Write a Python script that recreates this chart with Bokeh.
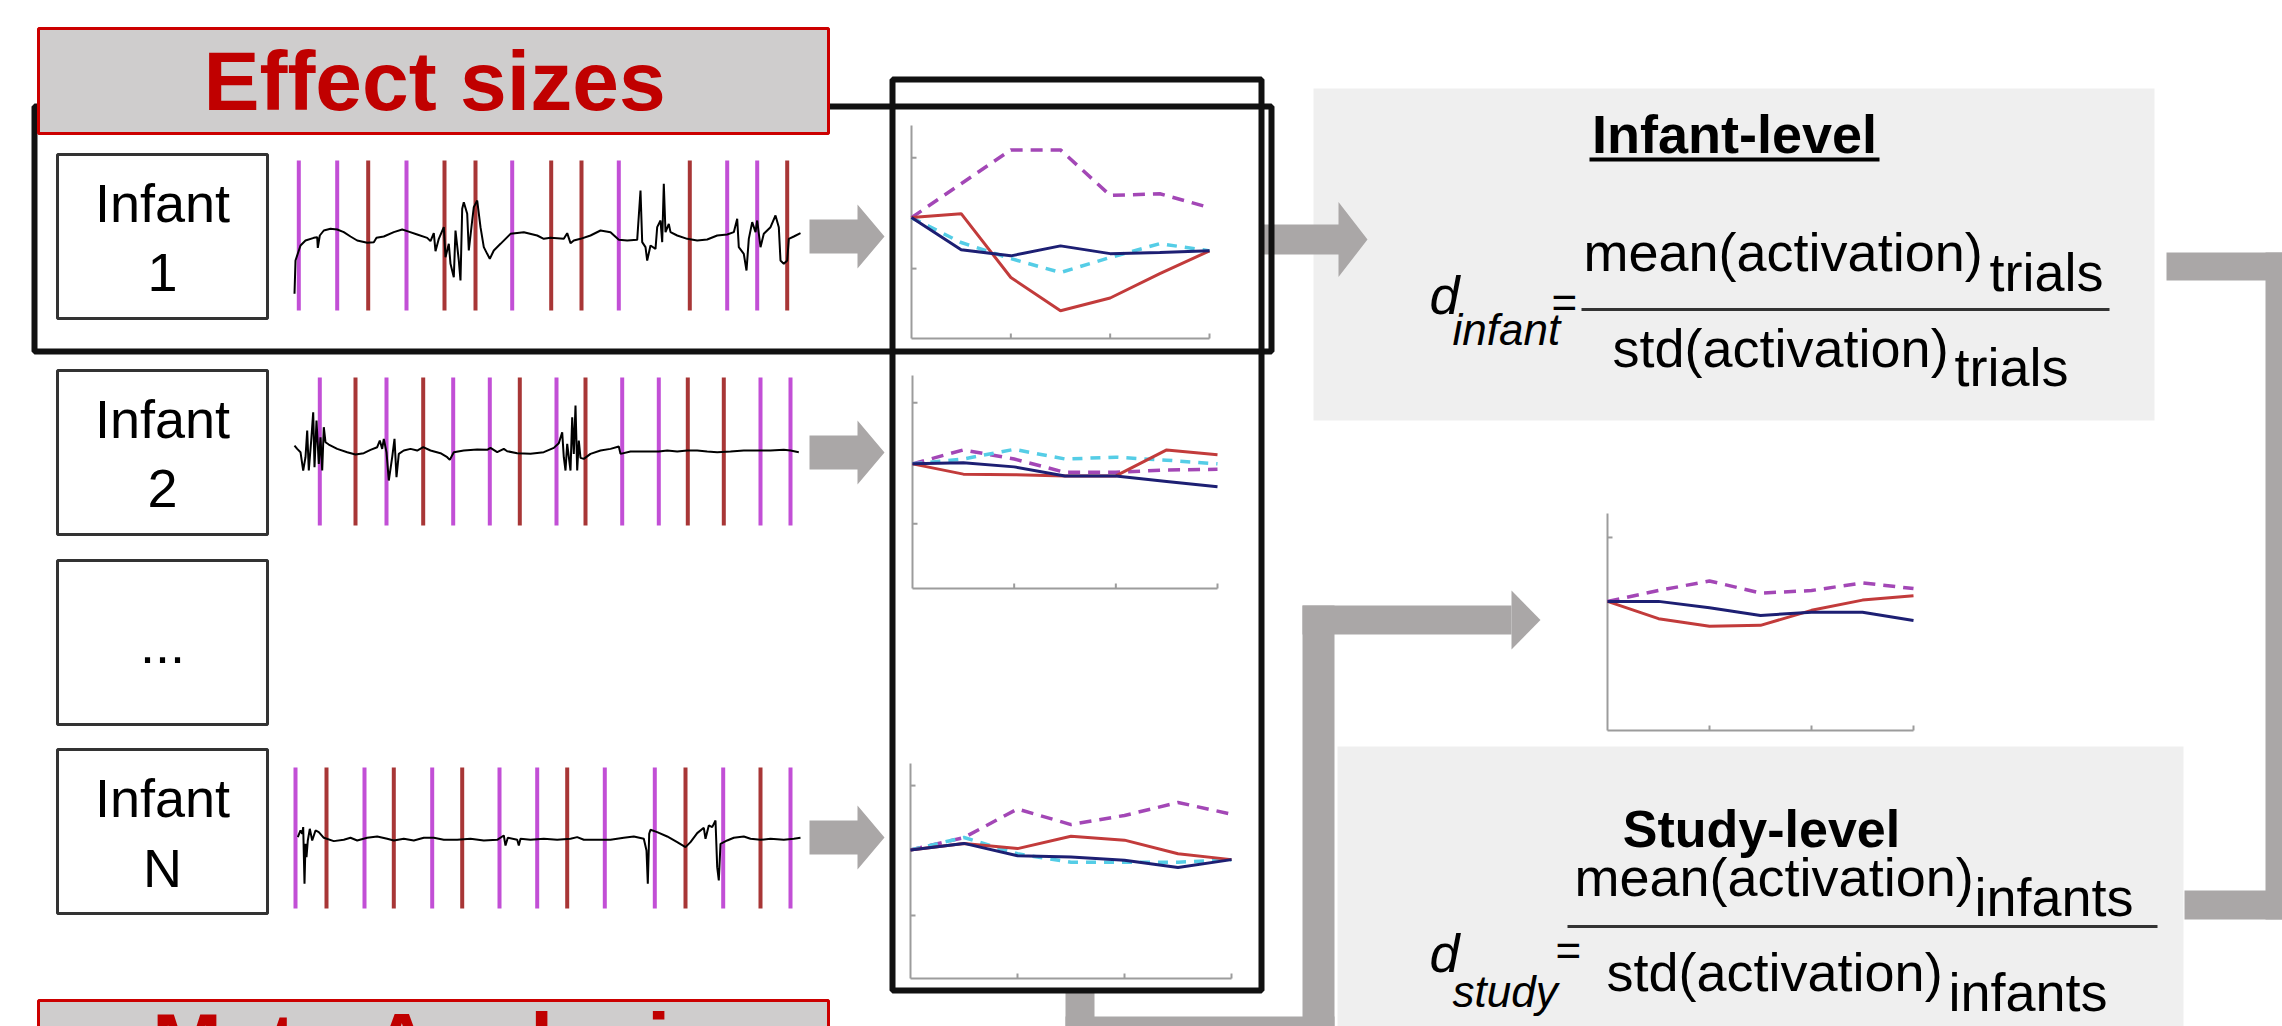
from bokeh.plotting import figure
from bokeh.models import Range1d
from bokeh.core.properties import value
from bokeh.embed import file_html
from bokeh.resources import INLINE

W, H = 2282, 1026
FONT = value("Liberation Sans")

# ------------------------------------------------------------------ data
# raw signal traces (time in s, amplitude in arbitrary units)
t1 = [0.4, 0.5, 1.0, 1.5, 2.33, 2.67, 2.73, 2.93, 3.33, 4.0, 4.67, 5.33, 6.0, 6.67, 7.67, 8.33, 8.6, 9.33, 10.33, 11.17,
      11.67, 12.67, 13.67, 14.0, 14.33, 14.5, 14.83, 15.33, 15.5, 15.83, 16.0, 16.33, 16.5, 16.83, 17.0, 17.17, 17.33,
      17.67, 17.83, 18.17, 18.33, 18.67, 19.0, 19.33, 19.67, 19.93, 20.33, 21.0, 22.0, 23.33, 24.67, 25.33, 26.0, 27.33,
      27.67, 28.0, 28.33, 29.0, 30.0, 31.0, 32.0, 32.83, 33.67, 34.67, 35.0, 35.17, 35.5, 35.67, 36.0, 36.5, 36.67, 37.0,
      37.17, 37.33, 37.5, 37.83, 38.0, 38.67, 39.67, 40.67, 41.67, 42.67, 43.67, 44.33, 44.67, 44.83, 45.33, 45.6, 45.83,
      46.17, 46.5, 46.67, 47.0, 47.33, 48.0, 48.5, 48.83, 49.0, 49.33, 49.67, 49.83, 50.33, 51.0]
a1 = [-16, -6, -1.5, 0, 0.8, 1.0, -2.2, 1.5, 3.0, 3.5, 3.3, 2.5, 1.2, 0, -0.7, -0.5, 0.8, 1.2, 2.5, 3.3,
      2.8, 1.8, 0.8, -0.2, 2.2, -3.2, 0.5, 4.0, -5.0, -1.0, -7.0, -11.0, 3.0, -6.0, -12.0, 9.5, 11.5,
      8.0, -3.0, 6.0, 10.0, 12.0, 4.0, -2.0, -4.0, -5.5, -3.0, -1.0, 2.0, 2.5, 1.5, 0.5, 0.8, 0.5,
      2.2, -0.8, 0, 0.5, 1.5, 3.0, 2.5, 0.2, 0, 0.2, 15.0, -0.5, -2.0, -6.0, -1.5, -2.5, 4.0, 6.0,
      -0.5, 17.0, 2.5, 5.0, 2.5, 1.5, 0.5, 0, 0.3, 1.5, 1.8, 2.5, 6.5, -2.0, -4.0, -9.0, 0.5,
      5.5, 2.5, 6.0, -2.0, 2.0, 4.0, 7.5, 4.0, -6.0, -7.0, -6.0, 0.5, 1.2, 2.2]
t2 = [0.4, 0.67, 1.0, 1.27, 1.5, 1.67, 1.83, 2.07, 2.27, 2.4, 2.6, 2.83, 3.0, 3.17, 3.33, 3.5, 3.83, 4.67, 5.67, 6.5,
      7.33, 8.0, 8.67, 8.93, 9.17, 9.33, 9.6, 9.83, 10.17, 10.4, 10.6, 10.83, 11.33, 12.0, 12.67, 13.27, 14.0, 15.0,
      15.67, 15.93, 16.33, 17.33, 18.67, 19.67, 20.0, 20.67, 21.33, 21.67, 22.67, 24.0, 25.33, 26.33, 26.83, 27.17,
      27.33, 27.5, 27.67, 28.0, 28.17, 28.33, 28.5, 28.67, 28.83, 29.0, 29.33, 30.0, 31.0, 32.0, 32.83, 33.0, 34.0,
      35.33, 36.83, 37.67, 38.67, 39.67, 40.67, 41.67, 42.67, 44.0, 45.33, 46.67, 48.0, 49.33, 50.0, 50.83]
a2 = [2.0, 1.0, 0, -5.5, -1.5, 6.5, -5.5, 3.5, 12.0, -4.5, 9.5, -3.5, 4.5, -5.5, 7.5, 3.0, 2.3, 1.0, 0, -0.7,
      -0.3, 0.7, 1.5, 3.5, 1.0, 4.0, 0, -8.5, -1.5, 4.0, -7.5, -0.5, 0.5, 1.0, 0.5, 1.5, 0.5, -0.3,
      -1.5, -2.3, 0, 0.5, 0.8, 0.7, 1.3, 0, 1.0, 0.3, -0.3, -0.5, 0, 1.3, 2.7, 6.0,
      -1.5, -5.5, 2.5, -5.5, 10.5, -0.5, 14.0, -5.5, 3.5, -1.7, -2.0, -0.5, 0.5, 1.0, 1.7, -0.5, 0.2,
      0.2, 0.2, 0.5, 0.2, 0.5, 0.5, 0.2, 0, 0.2, 0.5, 0.5, 0.5, 0.7, 0.5, 0]
tN = [0.73, 1.0, 1.17, 1.27, 1.4, 1.5, 1.6, 1.73, 1.93, 2.17, 2.5, 2.83, 3.33, 4.33, 5.33, 6.0, 6.67, 7.67, 8.67, 9.67,
      10.33, 11.33, 12.33, 13.33, 14.33, 15.33, 16.67, 18.0, 19.33, 20.67, 21.33, 21.5, 21.73, 22.67, 22.83, 23.0,
      24.0, 25.33, 26.67, 28.0, 28.67, 29.33, 30.67, 32.0, 33.33, 34.33, 35.33, 35.6, 35.73, 35.87, 36.0, 36.67,
      37.67, 38.67, 39.5, 40.0, 40.67, 41.33, 41.5, 41.83, 42.17, 42.5, 42.67, 42.83, 43.0, 43.67, 44.33, 45.33,
      46.0, 47.0, 48.0, 49.33, 50.33, 51.0]
aN = [0.5, 2.5, 1.5, 3.5, -13.5, -1.5, -5.5, -0.5, 3.0, -0.5, 2.5, 2.0, 0.3, -0.7, -0.3, 0.3, -0.5, 0.3, 0.7, 0,
      -0.5, 0, -0.5, 0.3, 0.3, -0.3, -0.3, 0, -0.5, -0.3, 1.0, -2.0, 0.3, -0.3, -2.0, 0,
      -0.3, 0, -0.3, 0, 0.5, -0.3, -0.3, -0.3, 0.3, 0.7, 0, -3.5, -13.5, 1.5, 2.7, 2.0,
      0.7, -1.0, -2.5, -1.0, 1.7, 3.3, 0, 4.0, 3.5, 5.5, -8.5, -12.5, -1.5, -0.5, 0.3, 0.7,
      0, -0.3, 0, -0.3, 0, 0.3]

# trial onsets (s) and condition (A = magenta, B = red)
onsets1 = [0.83, 4.67, 7.77, 11.6, 15.4, 18.5, 22.17, 26.07, 29.1, 32.83, 39.93, 43.67, 46.67, 49.67]
conds1 = ["A", "A", "B", "A", "B", "B", "A", "B", "B", "A", "B", "A", "A", "B"]
onsets2 = [2.93, 6.5, 9.6, 13.27, 16.27, 19.93, 22.93, 26.6, 29.5, 33.17, 36.83, 39.73, 43.33, 47.0, 50.0]
conds2 = ["A", "B", "A", "B", "A", "A", "B", "A", "B", "A", "A", "B", "B", "A", "A"]
onsetsN = [0.5, 3.6, 7.4, 10.33, 14.17, 17.17, 20.9, 24.67, 27.67, 31.43, 36.43, 39.5, 43.27, 47.0, 50.0]
condsN = ["A", "B", "A", "B", "A", "B", "A", "A", "B", "A", "A", "B", "A", "B", "A"]

# averaged activation per time bin
bins = [0, 1, 2, 3, 4, 5, 6]
inf1_red = [-0.08, -0.01, -1.16, -1.76, -1.53, -1.09, -0.68]
inf1_blue = [-0.08, -0.66, -0.77, -0.59, -0.73, -0.71, -0.68]
inf1_cyan = [-0.08, -0.53, -0.82, -1.07, -0.80, -0.55, -0.68]
inf1_mag = [-0.08, 0.53, 1.14, 1.14, 0.32, 0.35, 0.10]
inf2_red = [-0.01, -0.18, -0.19, -0.21, -0.21, 0.22, 0.14]
inf2_blue = [-0.01, 0.01, -0.06, -0.21, -0.21, -0.30, -0.39]
inf2_cyan = [-0.01, 0.07, 0.23, 0.07, 0.10, 0.05, -0.01]
inf2_mag = [-0.01, 0.22, 0.07, -0.15, -0.15, -0.11, -0.10]
infN_red = [0.01, 0.11, 0.03, 0.22, 0.16, -0.05, -0.14]
infN_blue = [0.01, 0.11, -0.08, -0.10, -0.15, -0.26, -0.14]
infN_cyan = [0.01, 0.20, -0.05, -0.18, -0.18, -0.18, -0.14]
infN_mag = [0.01, 0.20, 0.64, 0.40, 0.54, 0.74, 0.56]
study_red = [0, -0.27, -0.39, -0.375, -0.14, 0.02, 0.09]
study_blue = [0, 0, -0.10, -0.22, -0.17, -0.17, -0.30]
study_mag = [0, 0.17, 0.32, 0.13, 0.17, 0.29, 0.20]

infant_labels = ["Infant\n1", "Infant\n2", "...", "Infant\nN"]

# ------------------------------------------------------------------ styles
GRAY = "#aaa7a7"
RED_T = "#c00000"
MAG = "#c24fd6"
DRED = "#a83636"
C_RED = "#c23b3b"
C_BLUE = "#1d1f73"
C_CYAN = "#55cde6"
C_MAG = "#a347b6"
AXC = "#9c9c9c"
BASE_SHIFT = 0.37   # svg text baseline correction (fraction of font size)

p = figure(width=W, height=H, x_range=Range1d(0, W), y_range=Range1d(H, 0),
           output_backend="svg", toolbar_location=None,
           x_axis_location=None, y_axis_location=None, min_border=0,
           outline_line_color=None, background_fill_color="white",
           border_fill_color="white")
p.grid.visible = False


def xr(v_a, px_a, v_b, px_b):
    s = (v_b - v_a) / (px_b - px_a)
    return Range1d(start=v_a + (0 - px_a) * s, end=v_a + (W - px_a) * s)


def yr(v_a, py_a, v_b, py_b):
    s = (v_b - v_a) / (py_b - py_a)
    return Range1d(start=v_a + (H - py_a) * s, end=v_a + (0 - py_a) * s)


def txt(x, y, s, size, color="black", style="normal", align="left"):
    p.text(x=[x], y=[y - BASE_SHIFT * size], text=[s], text_font=FONT, text_font_size=value(f"{size}px"),
           text_color=color, text_font_style=style, text_align=align, text_baseline="alphabetic")


def arrow(x0, x1, xt, yc, sh, hh):
    p.patches(xs=[[x0, x1, x1, xt, x1, x1, x0]],
              ys=[[yc - sh / 2, yc - sh / 2, yc - hh / 2, yc, yc + hh / 2, yc + sh / 2, yc + sh / 2]],
              fill_color=GRAY, line_color=None)


# ------------------------------------------------------------------ background boxes
p.quad(left=[1313], right=[2154], top=[88], bottom=[420], fill_color="#efefef", line_color=None)
p.quad(left=[1337], right=[2183], top=[746], bottom=[1040], fill_color="#efefef", line_color=None)

# ------------------------------------------------------------------ gray connectors
p.quad(left=[2166, 2265, 2184], right=[2293, 2293, 2293], top=[252, 252, 890], bottom=[280, 919, 919],
       fill_color=GRAY, line_color=None)
p.quad(left=[1065, 1065, 1302, 1302], right=[1094, 1334, 1334, 1511], top=[990, 1016, 605, 605],
       bottom=[1045, 1045, 1045, 634], fill_color=GRAY, line_color=None)
p.patches(xs=[[1511, 1511, 1540]], ys=[[590, 649, 619.5]], fill_color=GRAY, line_color=None)

# row arrows
for yc in (236, 452, 837):
    arrow(809, 857, 884, yc, 34, 64)
arrow(1259, 1338, 1367, 239, 30, 75)

# ------------------------------------------------------------------ traces
p.extra_x_ranges["t"] = xr(0, 290, 10, 390)
rows = [(t1, a1, onsets1, conds1, 240.0, 160, 310, "a1"),
        (t2, a2, onsets2, conds2, 451.7, 377, 525, "a2"),
        (tN, aN, onsetsN, condsN, 838.3, 767, 908, "aN")]
for tt, aa, ons, cds, base, ytop, ybot, nm in rows:
    p.extra_y_ranges[nm] = yr(0, base, 30, base - 100)
    cols = [MAG if c == "A" else DRED for c in cds]
    p.segment(x0=ons, x1=ons, y0=[ytop] * len(ons), y1=[ybot] * len(ons),
              line_color=cols, line_width=4, x_range_name="t")
    p.line(x=tt, y=aa, line_color="black", line_width=2, x_range_name="t", y_range_name=nm)

# ------------------------------------------------------------------ mini charts
charts = [
    ("c1", (911, 1209, 125, 338, -2.26, 1.58), [-1, 1],
     [(inf1_mag, C_MAG, "12 8"), (inf1_cyan, C_CYAN, "10 8"), (inf1_red, C_RED, None), (inf1_blue, C_BLUE, None)]),
    ("c2", (912, 1217, 375, 588, -2.07, 1.45), [-1, 1],
     [(inf2_mag, C_MAG, "12 8"), (inf2_cyan, C_CYAN, "10 8"), (inf2_red, C_RED, None), (inf2_blue, C_BLUE, None)]),
    ("cN", (910, 1231, 763, 978, -1.97, 1.34), [-1, 1],
     [(infN_mag, C_MAG, "12 8"), (infN_cyan, C_CYAN, "10 8"), (infN_red, C_RED, None), (infN_blue, C_BLUE, None)]),
    ("cS", (1607, 1913, 513, 730, -2.02, 1.375), [1],
     [(study_mag, C_MAG, "12 8"), (study_red, C_RED, None), (study_blue, C_BLUE, None)]),
]
for nm, (xl, xrt, yt, yb, vmin, vmax), yticks, series in charts:
    p.extra_x_ranges[nm + "x"] = xr(bins[0], xl, bins[-1], xrt)
    p.extra_y_ranges[nm + "y"] = yr(vmin, yb, vmax, yt)
    kx = dict(x_range_name=nm + "x", y_range_name=nm + "y")
    dv = (vmax - vmin) / (yb - yt) * 5
    dx = (bins[-1] - bins[0]) / (xrt - xl) * 5
    p.segment(x0=[0, 0], y0=[vmin, vmin], x1=[0, bins[-1]], y1=[vmax, vmin],
              line_color=AXC, line_width=2, **kx)
    xt = [2, 4, 6]
    p.segment(x0=xt, x1=xt, y0=[vmin] * 3, y1=[vmin + dv] * 3, line_color=AXC, line_width=2, **kx)
    p.segment(x0=[0] * len(yticks), x1=[dx] * len(yticks), y0=yticks, y1=yticks,
              line_color=AXC, line_width=2, **kx)
    for vals, col, dash in series:
        if dash:
            p.line(x=bins, y=vals, line_color=col, line_width=3.5, line_dash=dash, **kx)
        else:
            p.line(x=bins, y=vals, line_color=col, line_width=3, **kx)

# ------------------------------------------------------------------ frames
p.quad(left=[34], right=[1271], top=[106], bottom=[351], fill_color=None, line_color="#111111", line_width=6)
p.quad(left=[892], right=[1261], top=[79], bottom=[990], fill_color=None, line_color="#111111", line_width=6)

# infant boxes
box_tops = [154, 370, 560, 749]
p.quad(left=[57] * 4, right=[267] * 4, top=box_tops, bottom=[b + 164 for b in box_tops],
       fill_color="white", line_color="#333333", line_width=3)
for lab, bt in zip(infant_labels, box_tops):
    if "\n" in lab:
        l1, l2 = lab.split("\n")
        txt(162, bt + 68, l1, 54, align="center")
        txt(162, bt + 138, l2, 54, align="center")
    else:
        txt(162, bt + 104, lab, 54, align="center")

# title boxes
p.quad(left=[38, 38], right=[828, 828], top=[28, 1000], bottom=[133, 1106],
       fill_color="#cfcdcd", line_color="#cc0000", line_width=3)
txt(434, 112, "Effect sizes", 84, color=RED_T, style="bold", align="center")
txt(434, 1074, "Meta-Analysis", 84, color=RED_T, style="bold", align="center")

# ------------------------------------------------------------------ formulas
txt(1734, 153, "Infant-level", 54, style="bold", align="center")
p.segment(x0=[1589], x1=[1879], y0=[159], y1=[159], line_color="black", line_width=4)
txt(1429, 314, "d", 54, style="italic")
txt(1452, 345, "infant", 44, style="italic")
txt(1551, 318, "=", 44)
txt(1583, 271, "mean(activation)", 54)
txt(1989, 291, "trials", 54)
p.segment(x0=[1581], x1=[2109], y0=[309], y1=[309], line_color="#333333", line_width=3)
txt(1612, 367, "std(activation)", 54)
txt(1954, 386, "trials", 54)

txt(1761, 848, "Study-level", 52, style="bold", align="center")
txt(1429, 972, "d", 54, style="italic")
txt(1452, 1007, "study", 44, style="italic")
txt(1555, 966, "=", 44)
txt(1574, 896, "mean(activation)", 54)
txt(1974, 916, "infants", 54)
p.segment(x0=[1567], x1=[2157], y0=[926], y1=[926], line_color="#333333", line_width=3)
txt(1606, 991, "std(activation)", 54)
txt(1948, 1011, "infants", 54)

open("out.html", "w").write(file_html(p, INLINE))
